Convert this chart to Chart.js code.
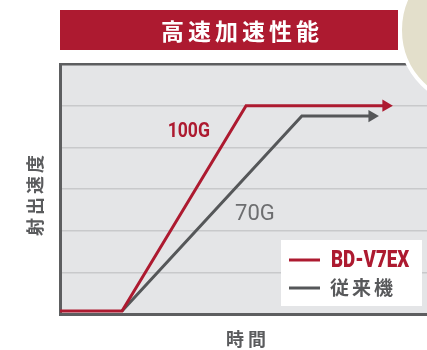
<!DOCTYPE html>
<html>
<head>
<meta charset="UTF-8" />
<title>高速加速性能</title>
<script src="https://cdn.jsdelivr.net/npm/chart.js@4"></script>
<style>
  html, body { margin: 0; padding: 0; background: #fff; }
  #wrap { width: 427px; height: 350px; }
</style>
</head>
<body>
<div id="wrap"><canvas id="chart" width="427" height="350"></canvas></div>
<script>
// time axis runs 0..100, speed axis 0..6 (one gridline per unit)
const newX = [0, 16.9, 50.7, 88.8];
const newY = [0.07, 0.07, 5, 5];
const oldX = [16.9, 65.9, 85.0];
const oldY = [0.07, 4.75, 4.75];

const seriesNames = ['BD-V7EX', '従来機'];
const lineLabels = ['100G', '70G'];
const labelAt = [[35.1, 4.37], [53.1, 2.39]];

const RED = '#ad1a30';
const GRAY = '#555759';

const toPts = (xs, ys) => xs.map((x, i) => ({ x: x, y: ys[i] }));
const arrowSizes = n => Array.from({ length: n }, (_, i) => (i === n - 1 ? 7 : 0));

// condensed look: squeeze a bold sans horizontally
function narrowText(ctx, text, x, y, squeeze, align) {
  ctx.save();
  ctx.translate(x, y);
  ctx.scale(squeeze, 1);
  ctx.textAlign = align;
  ctx.fillText(text, 0, 0);
  ctx.restore();
}

// background of the plot area
const bgPlugin = {
  id: 'bg',
  beforeDraw(chart) {
    const { ctx, chartArea: a } = chart;
    ctx.save();
    ctx.fillStyle = '#e4e5e7';
    ctx.fillRect(a.left, a.top, a.right - a.left, a.bottom - a.top);
    ctx.restore();
  }
};

// banner, axis titles, line labels, legend box, corner badge
const decoPlugin = {
  id: 'deco',
  afterDraw(chart) {
    const { ctx, scales } = chart;
    const sx = scales.x, sy = scales.y;
    ctx.save();

    // banner
    ctx.fillStyle = RED;
    ctx.fillRect(60, 10, 338, 40);
    ctx.fillStyle = '#fff';
    ctx.font = 'bold 23px "Noto Sans CJK JP"';
    ctx.textAlign = 'center';
    ctx.textBaseline = 'middle';
    ctx.letterSpacing = '4px';
    ctx.fillText('高速加速性能', 242, 31);

    // axis titles
    ctx.fillStyle = '#5a5b5d';
    ctx.font = 'bold 18px "Noto Sans CJK JP"';
    ctx.letterSpacing = '4px';
    ctx.fillText('時間', 248, 339);
    ctx.save();
    ctx.translate(35, 196);
    ctx.rotate(-Math.PI / 2);
    ctx.letterSpacing = '3px';
    ctx.fillText('射出速度', 2, 0);
    ctx.restore();

    // line labels
    ctx.letterSpacing = '0px';
    ctx.fillStyle = RED;
    ctx.font = 'bold 20px Roboto';
    narrowText(ctx, lineLabels[0], sx.getPixelForValue(labelAt[0][0]), sy.getPixelForValue(labelAt[0][1]), 0.88, 'center');
    ctx.fillStyle = '#6d6e70';
    ctx.font = '22px Roboto';
    ctx.fillText(lineLabels[1], sx.getPixelForValue(labelAt[1][0]), sy.getPixelForValue(labelAt[1][1]));

    // legend box
    ctx.fillStyle = '#fff';
    ctx.fillRect(281, 240, 141, 66);
    ctx.lineWidth = 3;
    ctx.strokeStyle = RED;
    ctx.beginPath(); ctx.moveTo(289, 260); ctx.lineTo(320, 260); ctx.stroke();
    ctx.strokeStyle = GRAY;
    ctx.beginPath(); ctx.moveTo(289, 288); ctx.lineTo(320, 288); ctx.stroke();
    ctx.fillStyle = RED;
    ctx.font = '900 24px Roboto';
    narrowText(ctx, seriesNames[0], 331, 261, 0.78, 'left');
    ctx.textAlign = 'left';
    ctx.fillStyle = '#58595b';
    ctx.font = 'bold 19px "Noto Sans CJK JP"';
    ctx.letterSpacing = '3px';
    ctx.fillText(seriesNames[1], 330, 288);

    // corner badge
    ctx.beginPath();
    ctx.arc(476, 30, 76, 0, Math.PI * 2);
    ctx.fillStyle = '#e3dfcb';
    ctx.fill();
    ctx.lineWidth = 4;
    ctx.strokeStyle = '#fff';
    ctx.stroke();
    ctx.restore();
  }
};

new Chart(document.getElementById('chart'), {
  type: 'line',
  data: {
    datasets: [
      {
        label: seriesNames[0],
        data: toPts(newX, newY),
        borderColor: RED,
        backgroundColor: RED,
        borderWidth: 3,
        pointStyle: 'triangle',
        pointRotation: 90,
        pointRadius: arrowSizes(newX.length),
        pointHoverRadius: arrowSizes(newX.length),
        pointBorderWidth: 0,
        tension: 0
      },
      {
        label: seriesNames[1],
        data: toPts(oldX, oldY),
        borderColor: GRAY,
        backgroundColor: GRAY,
        borderWidth: 3,
        pointStyle: 'triangle',
        pointRotation: 90,
        pointRadius: arrowSizes(oldX.length),
        pointHoverRadius: arrowSizes(oldX.length),
        pointBorderWidth: 0,
        tension: 0
      }
    ]
  },
  options: {
    responsive: false,
    animation: false,
    layout: { autoPadding: false, padding: { left: 60, top: 64, right: 0, bottom: 36 } },
    plugins: { legend: { display: false }, tooltip: { enabled: false } },
    scales: {
      x: {
        type: 'linear',
        min: 0,
        max: 100,
        ticks: { display: false },
        grid: { display: false, drawTicks: false },
        border: { display: true, color: '#5d5e60', width: 3 }
      },
      y: {
        min: 0,
        max: 6,
        ticks: { display: false, stepSize: 1 },
        grid: {
          drawTicks: false,
          color: c => (c.tick.value === 6 ? '#5d5e60' : '#c8c9cb'),
          lineWidth: c => (c.tick.value === 6 ? 2.5 : 1.5)
        },
        border: { display: true, color: '#5d5e60', width: 3 }
      }
    }
  },
  plugins: [bgPlugin, decoPlugin]
});
</script>
</body>
</html>
